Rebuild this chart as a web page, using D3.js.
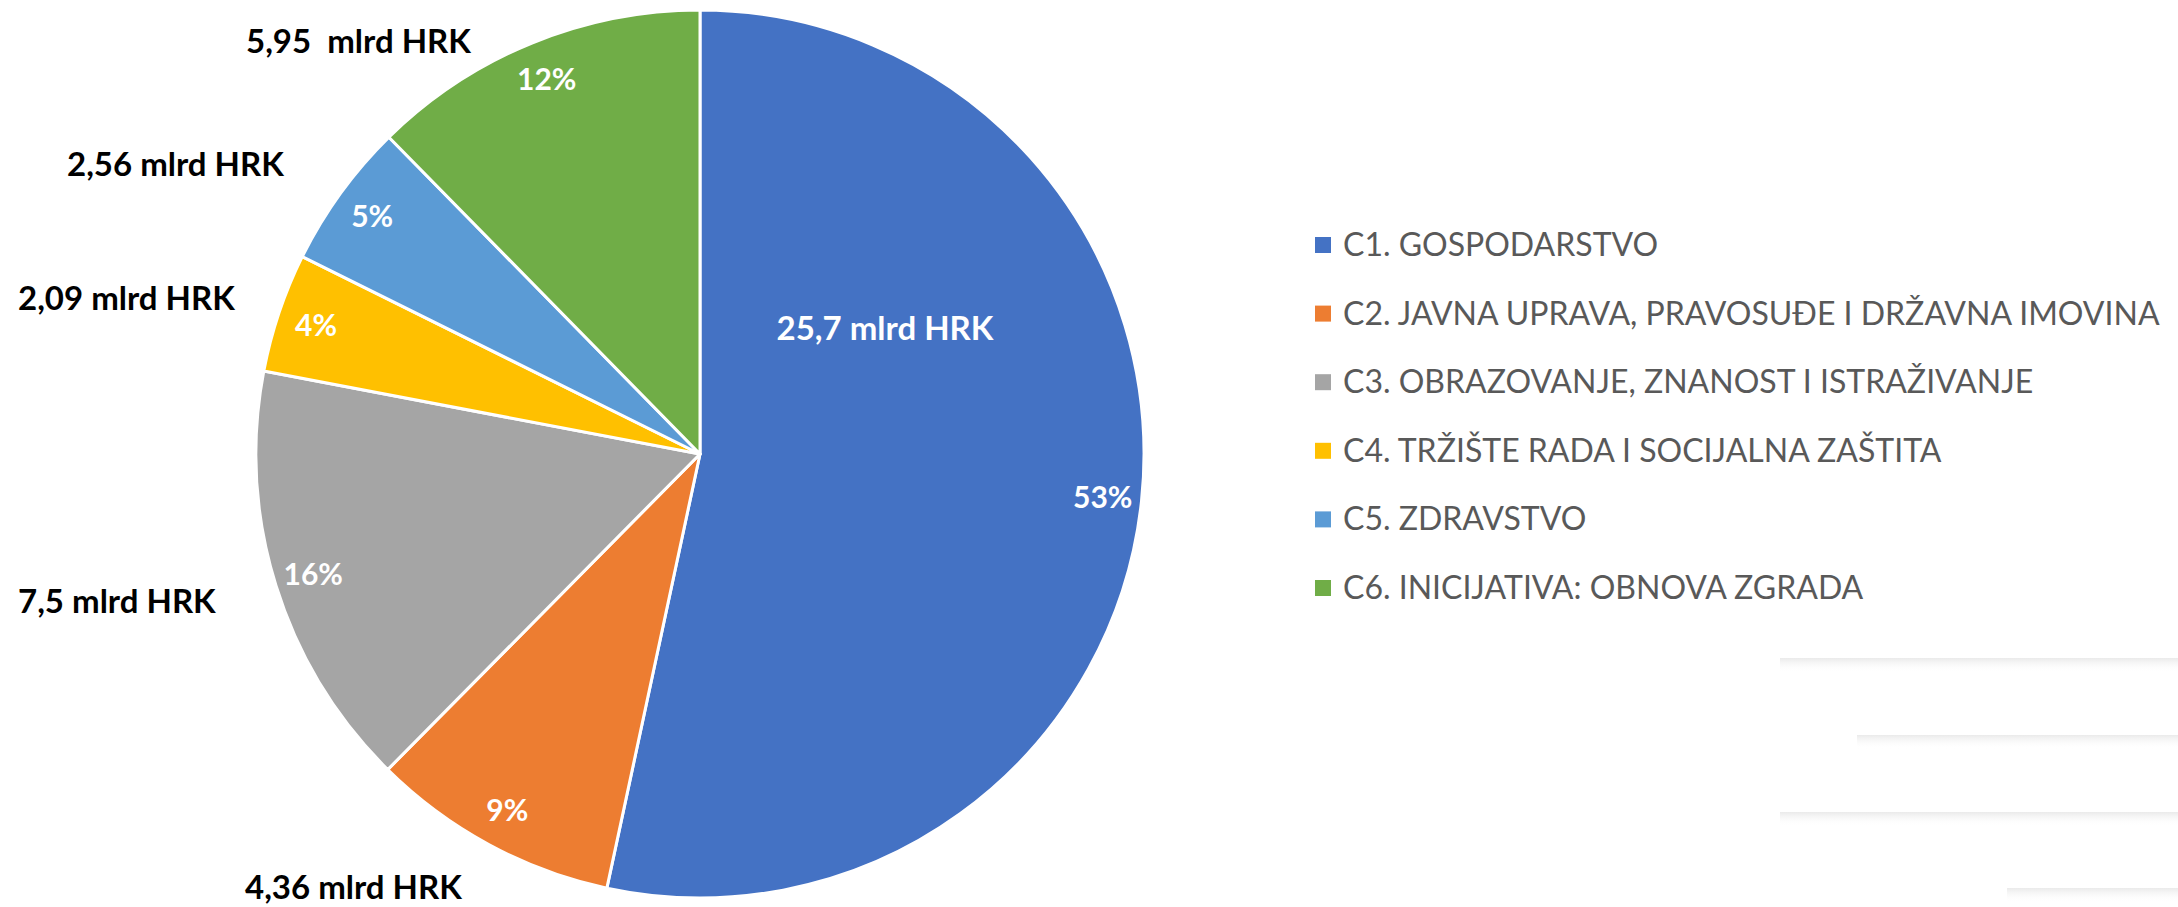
<!DOCTYPE html>
<html>
<head>
<meta charset="utf-8">
<script src="https://cdn.jsdelivr.net/npm/d3@7"></script>
<style>
  html, body { margin: 0; padding: 0; background: #ffffff; }
  svg { display: block; }
  text { font-family: Lato, "Open Sans", sans-serif; }
</style>
</head>
<body>
<svg id="chart" width="2178" height="907"></svg>
<script>
// ---- data ----
const categories = [
  "C1. GOSPODARSTVO",
  "C2. JAVNA UPRAVA, PRAVOSUĐE I DRŽAVNA IMOVINA",
  "C3. OBRAZOVANJE, ZNANOST I ISTRAŽIVANJE",
  "C4. TRŽIŠTE RADA I SOCIJALNA ZAŠTITA",
  "C5. ZDRAVSTVO",
  "C6. INICIJATIVA: OBNOVA ZGRADA"
];
const values = [25.7, 4.36, 7.5, 2.09, 2.56, 5.95];           // mlrd HRK
const percentLabels = ["53%", "9%", "16%", "4%", "5%", "12%"];
const amountLabels = ["25,7 mlrd HRK", "4,36 mlrd HRK", "7,5 mlrd HRK",
                      "2,09 mlrd HRK", "2,56 mlrd HRK", "5,95  mlrd HRK"];

// ---- styling / layout (kept apart from the data) ----
const colors = ["#4472C4", "#ED7D31", "#A5A5A5", "#FFC000", "#5B9BD5", "#70AD47"];
const cx = 700, cy = 454, radius = 444, labelRadius = 405;
const amountLayout = [
  {x: 885, y: 340, anchor: "middle", fill: "#ffffff"},
  {x: 245, y: 899, anchor: "start", fill: "#000000"},
  {x: 18,  y: 613, anchor: "start", fill: "#000000"},
  {x: 18,  y: 310, anchor: "start", fill: "#000000"},
  {x: 67,  y: 176, anchor: "start", fill: "#000000"},
  {x: 246, y: 53,  anchor: "start", fill: "#000000"}
];
const legendX = 1315, legendY = 256, legendStep = 68.6, swatch = 16;

const svg = d3.select("#chart");

// faint decorative background tiles (bottom right)
const deco = svg.append("g").attr("class", "deco");
const grad = svg.append("defs").append("linearGradient")
  .attr("id", "fade").attr("x1", 0).attr("x2", 0).attr("y1", 0).attr("y2", 1);
grad.append("stop").attr("offset", "0%").attr("stop-color", "#d8d8d8").attr("stop-opacity", 0.9);
grad.append("stop").attr("offset", "100%").attr("stop-color", "#ffffff").attr("stop-opacity", 0);
const decoRows = [
  {x1: 1780, x2: 2178, y: 658},
  {x1: 1857, x2: 2178, y: 735},
  {x1: 1780, x2: 2178, y: 812},
  {x1: 2007, x2: 2178, y: 888}
];
deco.selectAll("rect").data(decoRows).join("rect")
  .attr("x", d => d.x1).attr("y", d => d.y)
  .attr("width", d => d.x2 - d.x1).attr("height", 14)
  .attr("fill", "url(#fade)").attr("opacity", 0.6);

// ---- pie ----
const pie = d3.pie().sort(null).value(d => d)
  .startAngle(0).endAngle(2 * Math.PI);
const arcs = pie(values);
const arc = d3.arc().innerRadius(0).outerRadius(radius);
const labelArc = d3.arc().innerRadius(labelRadius).outerRadius(labelRadius);

const g = svg.append("g").attr("transform", `translate(${cx},${cy})`);
g.selectAll("path.slice").data(arcs).join("path")
  .attr("class", "slice")
  .attr("d", arc)
  .attr("fill", (d, i) => colors[i])
  .attr("stroke", "#ffffff")
  .attr("stroke-width", 3)
  .attr("stroke-linejoin", "round");

g.selectAll("text.pct").data(arcs).join("text")
  .attr("class", "pct")
  .attr("transform", d => `translate(${labelArc.centroid(d)})`)
  .attr("text-anchor", "middle")
  .attr("dy", "0.36em")
  .attr("fill", "#ffffff")
  .attr("font-size", 30)
  .attr("font-weight", 700)
  .text((d, i) => percentLabels[i]);

// ---- amount labels ----
svg.append("g").selectAll("text").data(amountLabels).join("text")
  .attr("x", (d, i) => amountLayout[i].x)
  .attr("y", (d, i) => amountLayout[i].y)
  .attr("text-anchor", (d, i) => amountLayout[i].anchor)
  .attr("fill", (d, i) => amountLayout[i].fill)
  .attr("font-size", 33)
  .attr("font-weight", 700)
  .style("white-space", "pre")
  .text(d => d);

// ---- legend ----
const legend = svg.append("g");
const items = legend.selectAll("g").data(categories).join("g")
  .attr("transform", (d, i) => `translate(${legendX},${legendY + i * legendStep})`);
items.append("rect")
  .attr("x", 0).attr("y", -19).attr("width", swatch).attr("height", swatch)
  .attr("fill", (d, i) => colors[i]);
items.append("text")
  .attr("x", 28).attr("y", 0)
  .attr("fill", "#595959")
  .attr("font-size", 32)
  .text(d => d);
</script>
</body>
</html>
